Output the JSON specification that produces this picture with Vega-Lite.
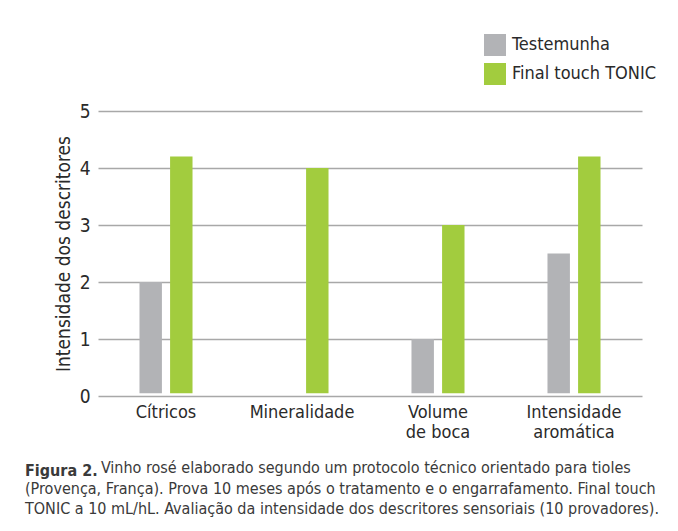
{
  "$schema": "https://vega.github.io/schema/vega-lite/v6.json",
  "width": 544,
  "height": 285,
  "autosize": {"type": "none"},
  "padding": {"left": 98, "top": 111, "right": 36, "bottom": 135},
  "background": "white",
  "data": {
    "values": [
      {"descritor": "Cítricos", "amostra": "Testemunha", "valor": 2},
      {"descritor": "Cítricos", "amostra": "Final touch TONIC", "valor": 4.2},
      {"descritor": "Mineralidade", "amostra": "Final touch TONIC", "valor": 4},
      {"descritor": "Volume de boca", "amostra": "Testemunha", "valor": 1},
      {"descritor": "Volume de boca", "amostra": "Final touch TONIC", "valor": 3},
      {"descritor": "Intensidade aromática", "amostra": "Testemunha", "valor": 2.5},
      {"descritor": "Intensidade aromática", "amostra": "Final touch TONIC", "valor": 4.2}
    ]
  },
  "title": {
    "text": "Figura 2.",
    "subtitle": [
      "\u200b\u2003\u2003\u2003\u2003\u00a0\u00a0\u00a0\u00a0Vinho rosé elaborado segundo um protocolo técnico orientado para tioles",
      "(Provença, França). Prova 10 meses após o tratamento e o engarrafamento. Final touch",
      "TONIC a 10 mL/hL. Avaliação da intensidade dos descritores sensoriais (10 provadores)."
    ],
    "orient": "bottom",
    "anchor": "start",
    "frame": "group",
    "dx": -73,
    "offset": 22,
    "font": "DejaVu Sans Condensed, DejaVu Sans, sans-serif",
    "fontSize": 16,
    "fontWeight": "bold",
    "color": "#3a3a3a",
    "lineHeight": 20.5,
    "subtitleFont": "DejaVu Sans Condensed, DejaVu Sans, sans-serif",
    "subtitleFontSize": 16,
    "subtitleFontWeight": "normal",
    "subtitleColor": "#3a3a3a",
    "subtitleLineHeight": 20.5,
    "subtitlePadding": -19
  },
  "mark": {"type": "bar"},
  "encoding": {
    "x": {
      "field": "descritor",
      "type": "nominal",
      "sort": ["Cítricos", "Mineralidade", "Volume de boca", "Intensidade aromática"],
      "scale": {"paddingInner": 0.61, "paddingOuter": 0.305},
      "axis": {
        "title": null,
        "labelAngle": 0,
        "domain": false,
        "ticks": false,
        "labelPadding": 7,
        "labelFont": "DejaVu Sans Condensed, DejaVu Sans, sans-serif",
        "labelFontSize": 18,
        "labelColor": "#2a2a2a",
        "labelLineHeight": 20,
        "labelExpr": "datum.value == 'Volume de boca' ? ['Volume', 'de boca'] : datum.value == 'Intensidade aromática' ? ['Intensidade', 'aromática'] : datum.label"
      }
    },
    "xOffset": {
      "field": "amostra",
      "type": "nominal",
      "scale": {"domain": ["Testemunha", "Final touch TONIC"], "paddingInner": 0.267, "paddingOuter": 0}
    },
    "y": {
      "field": "valor",
      "type": "quantitative",
      "scale": {"domain": [0, 5]},
      "axis": {
        "title": "Intensidade dos descritores",
        "values": [0, 1, 2, 3, 4, 5],
        "domain": false,
        "ticks": false,
        "grid": true,
        "gridColor": "#a8a8a8",
        "gridWidth": 1.6,
        "labelPadding": 8,
        "labelFont": "DejaVu Sans Condensed, DejaVu Sans, sans-serif",
        "labelFontSize": 19,
        "labelColor": "#2a2a2a",
        "titleFont": "DejaVu Sans Condensed, DejaVu Sans, sans-serif",
        "titleFontSize": 19,
        "titleFontWeight": "normal",
        "titleColor": "#2a2a2a",
        "titlePadding": 6
      }
    },
    "y2": {"datum": 0.05},
    "color": {
      "field": "amostra",
      "type": "nominal",
      "scale": {"domain": ["Testemunha", "Final touch TONIC"], "range": ["#b2b3b6", "#a2cc3e"]},
      "legend": {
        "title": null,
        "orient": "none",
        "legendX": 386,
        "legendY": -77,
        "symbolType": "square",
        "symbolSize": 484,
        "symbolStrokeWidth": 0,
        "symbolOpacity": 1,
        "labelFont": "DejaVu Sans Condensed, DejaVu Sans, sans-serif",
        "labelFontSize": 18,
        "labelColor": "#2a2a2a",
        "labelOffset": 6,
        "rowPadding": 7
      }
    }
  },
  "config": {"view": {"stroke": null}}
}
